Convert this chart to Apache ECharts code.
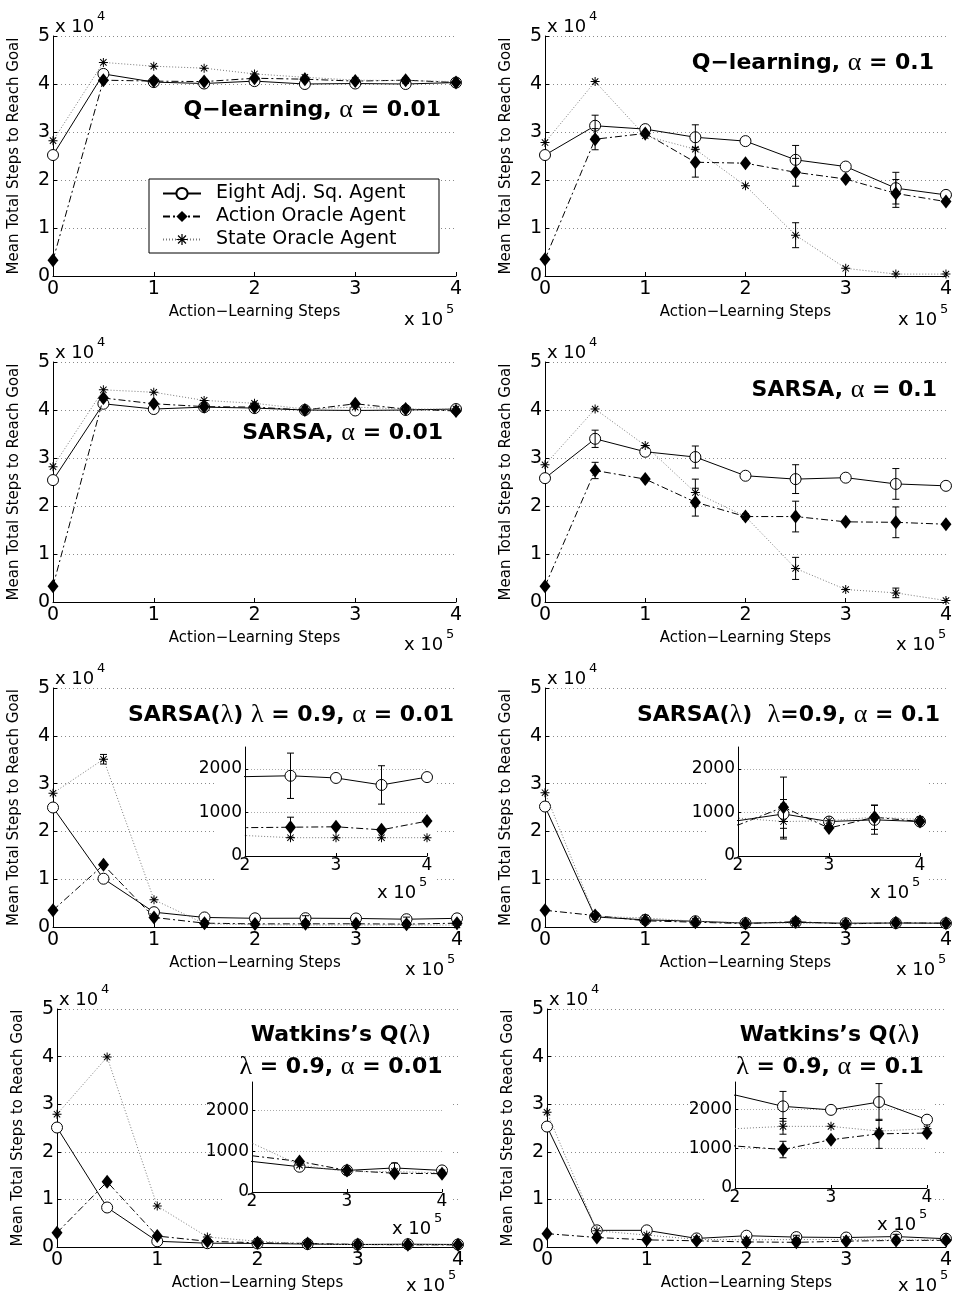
<!DOCTYPE html>
<html><head><meta charset="utf-8">
<script src="https://cdn.jsdelivr.net/npm/echarts@6/dist/echarts.min.js"></script>
<style>html,body{margin:0;padding:0;background:#fff}#c{width:955px;height:1295px}</style>
</head><body><div id="c"></div>
<script>
// ---------- DATA ----------
const steps = [0, 50000, 100000, 150000, 200000, 250000, 300000, 350000, 400000];
const seriesNames = ['Eight Adj. Sq. Agent', 'Action Oracle Agent', 'State Oracle Agent'];
const xAxisTitle = 'Action−Learning Steps';
const yAxisTitle = 'Mean Total Steps to Reach Goal';
const mainXTickLabels = ['0', '1', '2', '3', '4'];
const mainYTickLabels = ['0', '1', '2', '3', '4', '5'];
const insetXTickLabels = { 200000: '2', 300000: '3', 400000: '4' };
const insetYTickLabels = { 0: '0', 1000: '1000', 2000: '2000' };
const titles = [
  ['Q−learning, α = 0.01'], ['Q−learning, α = 0.1'],
  ['SARSA, α = 0.01'], ['SARSA, α = 0.1'],
  ['SARSA(λ) λ = 0.9, α = 0.01'], ['SARSA(λ)  λ=0.9, α = 0.1'],
  ['Watkins’s Q(λ)', 'λ = 0.9, α = 0.01'], ['Watkins’s Q(λ)', 'λ = 0.9, α = 0.1']
];

// Q-learning, alpha = 0.01
const ql001Eight  = [25200, 42100, 40400, 40100, 40600, 40000, 40100, 40000, 40300];
const ql001Action = [3300, 40800, 40600, 40500, 41200, 41000, 40600, 40800, 40300];
const ql001State  = [28200, 44500, 43700, 43300, 42100, 41400, 40800, 40700, 40500];
const ql001EightErr  = [0, 0, 0, 0, 0, 0, 0, 0, 0];
const ql001ActionErr = [0, 0, 0, 0, 0, 0, 0, 0, 0];
const ql001StateErr  = [0, 0, 0, 0, 0, 0, 0, 0, 0];
// Q-learning, alpha = 0.1
const ql01Eight  = [25200, 31300, 30600, 28900, 28100, 24200, 22800, 18300, 16900];
const ql01Action = [3500, 28500, 29700, 23700, 23500, 21600, 20200, 17200, 15500];
const ql01State  = [27800, 40500, 29200, 26400, 18800, 8500, 1600, 400, 400];
const ql01EightErr  = [0, 2200, 0, 2600, 0, 3000, 0, 3300, 0];
const ql01ActionErr = [0, 2200, 0, 3100, 0, 2900, 0, 2900, 0];
const ql01StateErr  = [0, 0, 0, 0, 0, 2600, 0, 0, 0];
// SARSA, alpha = 0.01
const sa001Eight  = [25400, 41300, 40200, 40600, 40400, 40000, 39900, 40000, 40200];
const sa001Action = [3300, 42500, 41300, 40700, 40600, 40000, 41300, 40200, 39800];
const sa001State  = [28200, 44200, 43700, 42000, 41400, 40200, 40600, 40200, 40200];
const sa001EightErr  = [0, 0, 0, 0, 0, 0, 0, 0, 0];
const sa001ActionErr = [0, 0, 0, 0, 0, 0, 0, 0, 0];
const sa001StateErr  = [0, 0, 0, 0, 0, 0, 0, 0, 0];
// SARSA, alpha = 0.1
const sa01Eight  = [25800, 34000, 31300, 30200, 26300, 25600, 25900, 24600, 24200];
const sa01Action = [3300, 27400, 25600, 20800, 17800, 17800, 16700, 16600, 16200];
const sa01State  = [28600, 40200, 32600, 22800, 17800, 7000, 2600, 1900, 300];
const sa01EightErr  = [0, 1800, 0, 2300, 0, 3000, 0, 3200, 0];
const sa01ActionErr = [0, 1700, 0, 2900, 0, 3200, 0, 3200, 0];
const sa01StateErr  = [0, 0, 0, 2800, 0, 2300, 0, 1000, 0];
// SARSA(lambda), lambda = 0.9, alpha = 0.01
const sl001Eight  = [25000, 10100, 3100, 2000, 1820, 1840, 1790, 1630, 1810];
const sl001Action = [3500, 13000, 2000, 800, 650, 660, 670, 600, 800];
const sl001State  = [28000, 35100, 5700, 700, 470, 420, 420, 420, 420];
const sl001EightErr  = [0, 0, 0, 0, 0, 520, 0, 440, 0];
const sl001ActionErr = [0, 0, 0, 0, 0, 230, 0, 0, 0];
const sl001StateErr  = [0, 1000, 0, 0, 0, 0, 0, 0, 0];
// SARSA(lambda), lambda = 0.9, alpha = 0.1
const sl01Eight  = [25200, 2100, 1500, 1200, 810, 965, 790, 830, 790];
const sl01Action = [3500, 2400, 1300, 1000, 710, 1120, 640, 890, 790];
const sl01State  = [28100, 2200, 1900, 1200, 870, 790, 810, 890, 840];
const sl01EightErr  = [0, 0, 0, 0, 0, 330, 0, 330, 0];
const sl01ActionErr = [0, 0, 0, 0, 0, 690, 0, 280, 0];
const sl01StateErr  = [0, 0, 0, 0, 0, 400, 0, 0, 0];
// Watkins's Q(lambda), lambda = 0.9, alpha = 0.01
const wq001Eight  = [25100, 8300, 1200, 800, 750, 620, 530, 590, 530];
const wq001Action = [3000, 13700, 2300, 1200, 890, 750, 530, 460, 450];
const wq001State  = [27900, 39900, 8600, 2100, 1200, 660, 500, 500, 470];
const wq001EightErr  = [0, 0, 0, 0, 0, 0, 0, 120, 0];
const wq001ActionErr = [0, 0, 0, 0, 0, 0, 0, 0, 0];
const wq001StateErr  = [0, 0, 0, 0, 0, 0, 0, 0, 0];
// Watkins's Q(lambda), lambda = 0.9, alpha = 0.1
const wq01Eight  = [25300, 3500, 3500, 1800, 2370, 2080, 1990, 2190, 1740];
const wq01Action = [2800, 2000, 1500, 1300, 1070, 980, 1230, 1380, 1400];
const wq01State  = [28300, 3400, 2500, 1600, 1510, 1570, 1570, 1450, 1510];
const wq01EightErr  = [0, 0, 0, 0, 0, 380, 0, 470, 0];
const wq01ActionErr = [0, 0, 0, 0, 0, 210, 0, 370, 0];
const wq01StateErr  = [0, 0, 0, 0, 0, 200, 0, 0, 0];

const panelValues = [
  [ql001Eight, ql001Action, ql001State], [ql01Eight, ql01Action, ql01State],
  [sa001Eight, sa001Action, sa001State], [sa01Eight, sa01Action, sa01State],
  [sl001Eight, sl001Action, sl001State], [sl01Eight, sl01Action, sl01State],
  [wq001Eight, wq001Action, wq001State], [wq01Eight, wq01Action, wq01State]
];
const panelErrors = [
  [ql001EightErr, ql001ActionErr, ql001StateErr], [ql01EightErr, ql01ActionErr, ql01StateErr],
  [sa001EightErr, sa001ActionErr, sa001StateErr], [sa01EightErr, sa01ActionErr, sa01StateErr],
  [sl001EightErr, sl001ActionErr, sl001StateErr], [sl01EightErr, sl01ActionErr, sl01StateErr],
  [wq001EightErr, wq001ActionErr, wq001StateErr], [wq01EightErr, wq01ActionErr, wq01StateErr]
];

// ---------- LAYOUT ----------
const mainGrids = [
  { left: 53, top: 36, width: 403, height: 240, expY: 44 },
  { left: 545, top: 36, width: 405, height: 240, expY: 44 },
  { left: 53, top: 362, width: 403, height: 240, expY: 43 },
  { left: 545, top: 362, width: 403, height: 240, expY: 43 },
  { left: 53, top: 688, width: 404, height: 239, expY: 43 },
  { left: 545, top: 688, width: 403, height: 239, expY: 43 },
  { left: 57, top: 1009, width: 401, height: 238, expY: 39 },
  { left: 547, top: 1009, width: 403, height: 238, expY: 39 }
];
const insetGrids = [
  { panel: 4, left: 245, top: 747, width: 182, height: 109, max: 2500 },
  { panel: 5, left: 738, top: 747, width: 182, height: 109, max: 2500 },
  { panel: 6, left: 252, top: 1082, width: 190, height: 110, max: 2700 },
  { panel: 7, left: 735, top: 1082, width: 192, height: 106, max: 2700 }
];
const titleLayout = [
  { x: 441, y: [110], align: 'right' }, { x: 934, y: [63], align: 'right' },
  { x: 443, y: [433], align: 'right' }, { x: 937, y: [390], align: 'right' },
  { x: 454, y: [715], align: 'right' }, { x: 940, y: [715], align: 'right' },
  { x: 341, y: [1035, 1067], align: 'center' }, { x: 830, y: [1035, 1067], align: 'center' }
];

const FONT = 'DejaVu Sans';
const asterisk = 'path://M0 8.9H20V11.1H0Z M8.9 0H11.1V20H8.9Z M3.71 2.15L17.85 16.29L16.29 17.85L2.15 3.71Z M17.85 3.71L3.71 17.85L2.15 16.29L16.29 2.15Z';
const seriesStyles = [
  { symbol: 'circle', size: 11, itemStyle: { color: '#fff', borderColor: '#000', borderWidth: 1 }, lineStyle: { color: '#000', width: 1, type: 'solid' } },
  { symbol: 'diamond', size: [11, 14], itemStyle: { color: '#000', borderWidth: 0 }, lineStyle: { color: '#000', width: 1, type: [7, 3, 2, 3] } },
  { symbol: asterisk, size: 9, itemStyle: { color: '#000', borderWidth: 0 }, lineStyle: { color: '#7a7a7a', width: 1, type: [1, 2] } }
];

function renderErr(params, api) {
  const x = api.value(0), y = api.value(1), e = api.value(2);
  if (!e) return null;
  const t = api.coord([x, y + e]), b = api.coord([x, y - e]);
  const c = 3.5, st = { stroke: '#000', lineWidth: 1 };
  return { type: 'group', children: [
    { type: 'line', shape: { x1: t[0], y1: t[1], x2: b[0], y2: b[1] }, style: st },
    { type: 'line', shape: { x1: t[0] - c, y1: t[1], x2: t[0] + c, y2: t[1] }, style: st },
    { type: 'line', shape: { x1: b[0] - c, y1: b[1], x2: b[0] + c, y2: b[1] }, style: st }
  ] };
}

const grid = [], xAxis = [], yAxis = [], series = [], graphic = [];
const tickLabelStyle = { color: '#000', fontFamily: FONT, fontSize: 19 };
function expText(x, y, base, sup) {
  graphic.push({ type: 'text', x: x, y: y, z: 10, style: { text: 'x 10', fontFamily: FONT, fontSize: 18, fill: '#000', verticalAlign: 'middle', align: 'left' } });
  graphic.push({ type: 'text', x: x + 42, y: y - 10, z: 10, style: { text: sup, fontFamily: FONT, fontSize: 13, fill: '#000', verticalAlign: 'middle', align: 'left' } });
}

mainGrids.forEach((g, i) => {
  grid.push({ left: g.left, top: g.top, width: g.width, height: g.height, containLabel: false });
  xAxis.push({
    gridIndex: i, type: 'value', min: 0, max: 400000, interval: 100000,
    axisLine: { show: true, onZero: false, lineStyle: { color: '#000', width: 1 } },
    axisTick: { show: true, inside: true, length: 4, lineStyle: { color: '#000' } },
    axisLabel: Object.assign({ margin: 4, formatter: v => mainXTickLabels[Math.round(v / 100000)] ?? '' }, tickLabelStyle),
    splitLine: { show: false },
    name: xAxisTitle, nameLocation: 'middle', nameGap: 29,
    nameTextStyle: { color: '#000', fontFamily: FONT, fontSize: 15 }
  });
  yAxis.push({
    gridIndex: i, type: 'value', min: 0, max: 50000, interval: 10000,
    axisLine: { show: true, onZero: false, lineStyle: { color: '#000', width: 1 } },
    axisTick: { show: true, inside: true, length: 4, lineStyle: { color: '#000' } },
    axisLabel: Object.assign({ margin: 3, formatter: v => mainYTickLabels[Math.round(v / 10000)] ?? '' }, tickLabelStyle),
    splitLine: { show: true, lineStyle: { color: '#8a8a8a', width: 1, type: [1, 3] } },
    name: yAxisTitle, nameLocation: 'middle', nameGap: 31,
    nameTextStyle: { color: '#000', fontFamily: FONT, fontSize: 15 }
  });
  const vals = panelValues[i], errs = panelErrors[i];
  const errData = [];
  vals.forEach((arr, s) => {
    const st = seriesStyles[s];
    series.push({
      type: 'line', name: seriesNames[s], xAxisIndex: i, yAxisIndex: i,
      data: steps.map((x, k) => [x, arr[k]]),
      symbol: st.symbol, symbolSize: st.size, showAllSymbol: true,
      itemStyle: st.itemStyle, lineStyle: st.lineStyle, z: 2 + s * 0.1,
      emphasis: { disabled: true }, animation: false
    });
    steps.forEach((x, k) => errData.push([x, arr[k], errs[s][k]]));
  });
  series.push({ type: 'custom', xAxisIndex: i, yAxisIndex: i, data: errData, renderItem: renderErr, z: 3, clip: true, silent: true });

  const r = g.left + g.width, b = g.top + g.height;
  expText(g.left + 2, g.top - 9, 'x 10', '4');
  expText(r - 52, b + g.expY, 'x 10', '5');
});

insetGrids.forEach((g, k) => {
  const idx = mainGrids.length + k, p = g.panel;
  grid.push({ left: g.left, top: g.top, width: g.width, height: g.height, containLabel: false });
  xAxis.push({
    gridIndex: idx, type: 'value', min: 200000, max: 400000, interval: 100000, z: 5,
    axisLine: { show: true, onZero: false, lineStyle: { color: '#000', width: 1 } },
    axisTick: { show: true, inside: true, length: 3, lineStyle: { color: '#000' } },
    axisLabel: { margin: 1, color: '#000', fontFamily: FONT, fontSize: 17, formatter: v => insetXTickLabels[v] ?? '' },
    splitLine: { show: false }
  });
  yAxis.push({
    gridIndex: idx, type: 'value', min: 0, max: g.max, interval: 1000, z: 5,
    axisLine: { show: true, onZero: false, lineStyle: { color: '#000', width: 1 } },
    axisTick: { show: true, inside: true, length: 3, lineStyle: { color: '#000' } },
    axisLabel: { margin: 3, color: '#000', fontFamily: FONT, fontSize: 17, showMaxLabel: false, formatter: v => insetYTickLabels[v] ?? '' },
    splitLine: { show: true, showMaxLine: false, lineStyle: { color: '#aaa', width: 1, type: [1, 2] } }
  });
  const vals = panelValues[p], errs = panelErrors[p];
  const errData = [];
  vals.forEach((arr, s) => {
    const st = seriesStyles[s];
    series.push({
      type: 'line', name: seriesNames[s] + ' ', xAxisIndex: idx, yAxisIndex: idx,
      data: steps.map((x, j) => [x, arr[j]]),
      symbol: st.symbol, symbolSize: v => (v[0] <= 200000 ? 0 : st.size), showAllSymbol: true,
      itemStyle: st.itemStyle, lineStyle: st.lineStyle, z: 6 + s * 0.1, clip: true,
      emphasis: { disabled: true }, animation: false
    });
    steps.forEach((x, j) => errData.push([x, arr[j], errs[s][j]]));
  });
  series.push({ type: 'custom', xAxisIndex: idx, yAxisIndex: idx, data: errData, renderItem: renderErr, z: 7, clip: true, silent: true });

  graphic.push({ type: 'rect', z: 3, silent: true, shape: { x: g.left - 30, y: g.top, width: g.width + 38, height: g.height + 26 }, style: { fill: '#fff' } });
  const r = g.left + g.width, b = g.top + g.height;
  expText(r - 50, b + 37, 'x 10', '5');
});

function richTitle(s) {
  let out = '', buf = '';
  for (const ch of s) {
    if (ch === 'α' || ch === 'λ') { if (buf) { out += '{b|' + buf + '}'; buf = ''; } out += '{g|' + ch + '}'; }
    else buf += ch;
  }
  if (buf) out += '{b|' + buf + '}';
  return out;
}
const titleRich = {
  b: { fontFamily: FONT, fontWeight: 'bold', fontSize: 22, fill: '#000', color: '#000' },
  g: { fontFamily: 'Liberation Serif', fontWeight: 'normal', fontSize: 26, fill: '#000', color: '#000' }
};
titles.forEach((lines, i) => {
  const L = titleLayout[i];
  lines.forEach((t, j) => {
    graphic.push({ type: 'text', x: L.x, y: L.y[j], z: 10, style: { text: richTitle(t), rich: titleRich, align: L.align, verticalAlign: 'middle' } });
  });
});

const option = {
  backgroundColor: '#fff',
  animation: false,
  grid, xAxis, yAxis, series, graphic,
  legend: {
    data: seriesNames, left: 149, top: 179, orient: 'vertical',
    backgroundColor: '#fff', borderColor: '#000', borderWidth: 1,
    padding: [5, 13, 4, 13], itemWidth: 38, itemHeight: 14, itemGap: 4,
    selectedMode: false, z: 10,
    textStyle: { fontFamily: FONT, fontSize: 19, color: '#000', lineHeight: 18, padding: [0, 0, 0, 10], width: 210 }
  }
};
const chart = echarts.init(document.getElementById('c'), null, { renderer: 'canvas' });
chart.setOption(option);
</script></body></html>
